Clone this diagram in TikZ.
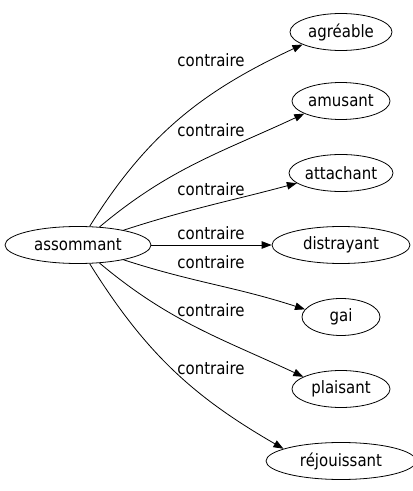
\documentclass[tikz,border=0pt]{standalone}
\usepackage{fontspec}
\setmainfont{DejaVu Sans}[FakeStretch=0.88]
\usetikzlibrary{shapes.geometric,arrows.meta}
\begin{document}
\begin{tikzpicture}[x=1pt,y=1pt,
  nd/.style={ellipse, draw, line width=0.8pt, minimum height=37pt, inner sep=0pt, font=\fontsize{17}{19}\selectfont},
  lbl/.style={font=\fontsize{17}{19}\selectfont, inner sep=0pt},
  edge/.style={draw, line width=0.8pt, -{Triangle[length=10pt,width=7.5pt]}}]
\useasboundingbox (0,0) rectangle (413,491);
\node[nd, minimum width=146pt] (s) at (78,246) {assommant};
\node[nd, minimum width=102pt] (n1) at (341,459) {agréable};
\node[nd, minimum width=98pt] (n2) at (341,390) {amusant};
\node[nd, minimum width=104pt] (n3) at (341,318) {attachant};
\node[nd, minimum width=138pt] (n4) at (341,246) {distrayant};
\node[nd, minimum width=78pt] (n5) at (341,174) {gai};
\node[nd, minimum width=98pt] (n6) at (341,102) {plaisant};
\node[nd, minimum width=150pt] (n7) at (341,30) {réjouissant};
\draw[edge] (s) to[out=58,in=205] (n1.198);
\draw[edge] (s) to[out=40,in=205] (n2.199);
\draw[edge] (s) to[out=18,in=195] (n3.193);
\draw[edge] (s) -- (n4);
\draw[edge] (s) to[out=-18,in=162] (n5.168);
\draw[edge] (s) to[out=-40,in=155] (n6.162);
\draw[edge] (s) to[out=-58,in=150] (n7.168);
\node[lbl] (l1) at (211,431) {contraire};
\node[lbl] (l2) at (211,361) {contraire};
\node[lbl] (l3) at (211,302) {contraire};
\node[lbl] (l4) at (211,258) {contraire};
\node[lbl] (l5) at (211,229) {contraire};
\node[lbl] (l6) at (211,181) {contraire};
\node[lbl] (l7) at (211,123) {contraire};
\end{tikzpicture}
\end{document}
